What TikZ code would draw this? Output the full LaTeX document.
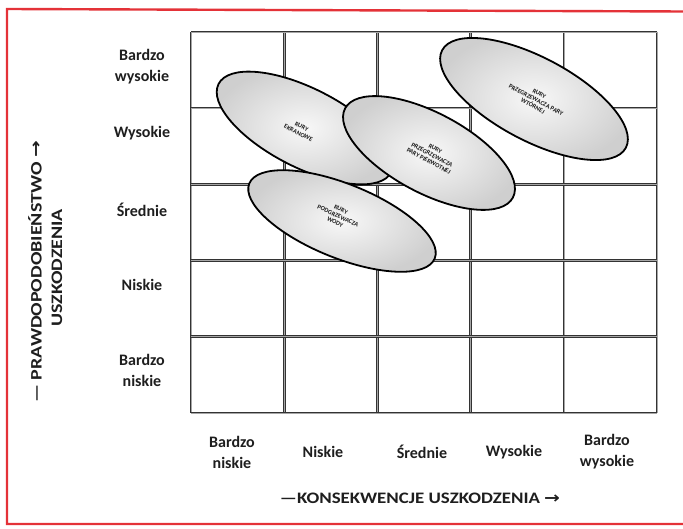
\documentclass[tikz,border=0pt]{standalone}
\usepackage{fontspec}
\setmainfont{Carlito}
\newfontfamily\arrowfont{DejaVu Sans}
\usetikzlibrary{shapes.geometric}
\definecolor{framered}{RGB}{228,50,56}
\definecolor{ink}{RGB}{30,30,30}
\begin{document}
\begin{tikzpicture}[x=1pt,y=-1pt,
  gridline/.style={line width=2.6pt, draw=black!80},
  gridcore/.style={line width=0.6pt, draw=black!35},
  lab/.style={font=\fontsize{16}{21}\selectfont\bfseries, align=center, text=ink, inner sep=0pt},
  axis/.style={font=\fontsize{16}{18}\selectfont\bfseries, text=ink, inner sep=0pt},
  blob/.style={ellipse, draw=black, line width=1.8pt, inner color=gray!6, outer color=gray!38, inner sep=0pt},
  blobtext/.style={font=\fontsize{6.3}{7}\selectfont\bfseries, align=center, text=black!90, inner sep=0pt}]
\useasboundingbox (0,0) rectangle (683,529);

% red frame
\draw[framered, line width=2.4pt] (683,11.5) -- (7,9) -- (7,524) -- (683,524);

% risk grid 5 x 5
\foreach \x in {191,284.2,377.4,470.6,563.8,657} {
  \draw[gridline] (\x,32) -- (\x,413);
  \draw[gridcore] (\x,32) -- (\x,413);
}
\foreach \y in {32,108.2,184.4,260.6,336.8,413} {
  \draw[gridline] (191,\y) -- (657,\y);
  \draw[gridcore] (191,\y) -- (657,\y);
}

% probability scale
\node[lab] (pv5) at (142,67)  {Bardzo\\wysokie};
\node[lab] (pv4) at (142,133) {Wysokie};
\node[lab] (pv3) at (142,210) {Średnie};
\node[lab] (pv2) at (142,285) {Niskie};
\node[lab] (pv1) at (142,370) {Bardzo\\niskie};

% consequence scale
\node[lab] (ch1) at (232,452) {Bardzo\\niskie};
\node[lab] (ch2) at (323,452) {Niskie};
\node[lab] (ch3) at (422,452) {Średnie};
\node[lab] (ch4) at (514,452) {Wysokie};
\node[lab] (ch5) at (607,452) {Bardzo\\wysokie};

% axis titles
\node[axis] (xtitle) at (420,498)
  {\scalebox{1.18}[1]{—KONSEKWENCJE USZKODZENIA {\arrowfont →}}};
\node[axis, rotate=90] (ytitle1) at (35,272)
  {\scalebox{1.25}[1]{— PRAWDOPODOBIEŃSTWO {\arrowfont →}}};
\node[axis, rotate=90] (ytitle2) at (57,268)
  {\scalebox{1.25}[1]{USZKODZENIA}};

% tube groups
\node[blob, rotate=-28, minimum width=208pt, minimum height=83pt] (wtorne) at (534,99) {};
\node[blob, rotate=-27, minimum width=194pt, minimum height=79pt] (ekranowe) at (305,128) {};
\node[blob, rotate=-22, minimum width=200pt, minimum height=74pt] (woda) at (342,221) {};
\node[blob, rotate=-28, minimum width=190pt, minimum height=80pt] (pierwotne) at (429,153) {};

\node[blobtext, rotate=-27] (t1) at (300,130) {RURY\\EKRANOWE};
\node[blobtext, rotate=-28] (t2) at (432,155) {RURY\\PRZEGRZEWACZA\\PARY PIERWOTNEJ};
\node[blobtext, rotate=-28] (t3) at (536,100) {RURY\\PRZEGRZEWACZA PARY\\WTÓRNEJ};
\node[blobtext, rotate=-25] (t4) at (338,216) {RURY\\PODGRZEWACZA\\WODY};
\end{tikzpicture}
\end{document}
